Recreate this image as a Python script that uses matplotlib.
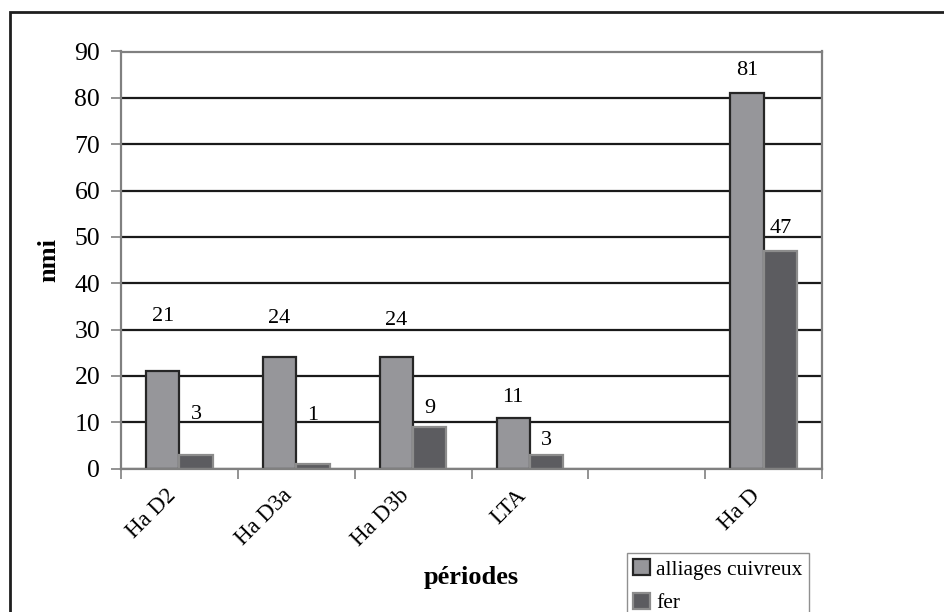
import matplotlib
matplotlib.use("Agg")
import matplotlib.pyplot as plt
from matplotlib.patches import Rectangle
from matplotlib.transforms import ScaledTranslation
import numpy as np

# data
periodes = ['Ha D2', 'Ha D3a', 'Ha D3b', 'LTA', '', 'Ha D']
cuivre = [21, 24, 24, 11, np.nan, 81]
fer = [3, 1, 9, 3, np.nan, 47]
# heights where the value labels sit (they were moved by hand in the original)
pos_label_cuivre = [32.7, 32.4, 32.0, 15.4, np.nan, 85.8]
pos_label_fer = [11.7, 11.5, 13.0, 6.1, np.nan, 51.9]

plt.rcParams['font.family'] = ['Liberation Serif', 'DejaVu Serif']

fig = plt.figure(figsize=(9.44, 6.12), dpi=100)
ax = fig.add_axes([121/944, 1 - 468.5/612, 701/944, 417/612])

x = np.arange(len(periodes))
width = 0.2857
cu = np.array(cuivre, dtype=float)
fe = np.array(fer, dtype=float)
ok = ~np.isnan(cu)

ax.bar(x[ok] - width/2, cu[ok], width, color='#96969a', edgecolor='#262626',
       linewidth=1.6, label='alliages cuivreux', zorder=3)
ax.bar(x[ok] + width/2, fe[ok], width, color='#5c5c60', edgecolor='#8c8c8c',
       linewidth=1.6, label='fer', zorder=3)

for i in range(len(periodes)):
    if not ok[i]:
        continue
    ax.text(x[i] - width/2, pos_label_cuivre[i], '%d' % cuivre[i], ha='center',
            va='center', fontsize=16, zorder=4)
    ax.text(x[i] + width/2, pos_label_fer[i], '%d' % fer[i], ha='center',
            va='center', fontsize=16, zorder=4)

ax.set_xlim(-0.5, len(periodes) - 0.5)
ax.set_ylim(0, 90)
ax.set_yticks(np.arange(0, 91, 10))
ax.tick_params(axis='y', labelsize=18.5, length=7, width=1.2, color='#808080', pad=8)

ax.set_xticks(x)
ax.set_xticklabels(periodes, rotation=45, ha='right', va='center',
                   rotation_mode='anchor', fontsize=16.5)
ax.tick_params(axis='x', which='major', length=0, pad=17)
shift = ScaledTranslation(-7/100, 0, fig.dpi_scale_trans)
for lab in ax.get_xticklabels():
    lab.set_transform(lab.get_transform() + shift)
ax.set_xticks(np.arange(-0.5, len(periodes)), minor=True)
ax.tick_params(axis='x', which='minor', length=7, width=1.2, color='#808080')

ax.yaxis.grid(True, color='#1a1a1a', linewidth=1.6)
ax.set_axisbelow(True)
for s in ax.spines.values():
    s.set_color('#808080')
    s.set_linewidth(1.6)
    s.set_zorder(5)

ax.set_ylabel('nmi', fontsize=19, fontweight='bold')
ax.yaxis.set_label_coords(-0.087, 0.5)
ax.set_xlabel('périodes', fontsize=19, fontweight='bold')
ax.xaxis.set_label_coords(0.5, -0.235)

leg = fig.legend(loc='upper left', bbox_to_anchor=(627/944, 1 - 553/612),
                 borderaxespad=0, fontsize=15.5, frameon=True, fancybox=False,
                 handlelength=0.75, handleheight=0.75, handletextpad=0.3,
                 labelspacing=0.6, borderpad=0.3, framealpha=1)
leg.get_frame().set_edgecolor('#909090')
leg.get_frame().set_linewidth(1.0)

# outer frame of the figure (cut off on the right and bottom)
fig.patches.append(Rectangle((10/944, -0.05), 1.0, 1 - 12/612 + 0.05,
                             transform=fig.transFigure, fill=False,
                             edgecolor='#1e1e1e', linewidth=2.0))

fig.savefig('out.png', dpi=100)
